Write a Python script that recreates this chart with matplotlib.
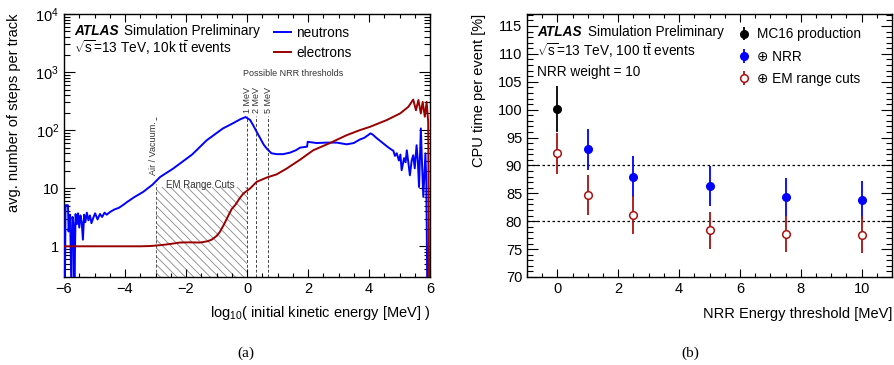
import matplotlib
matplotlib.use("Agg")
import matplotlib.pyplot as plt
from matplotlib.ticker import FixedLocator, MultipleLocator, NullFormatter
from matplotlib.patches import Rectangle
import numpy as np

plt.rcParams['font.family'] = ['Liberation Sans', 'DejaVu Sans']
plt.rcParams['mathtext.fontset'] = 'custom'
plt.rcParams['mathtext.rm'] = 'Liberation Sans'
plt.rcParams['mathtext.it'] = 'Liberation Sans:italic'
plt.rcParams['mathtext.bf'] = 'Liberation Sans:bold'
plt.rcParams['hatch.color'] = '#888888'
plt.rcParams['hatch.linewidth'] = 0.6

# ---- panel (a): steps per track vs log10(E) ----
neutron_logE = [-5.99, -5.97, -5.95, -5.92, -5.87, -5.85, -5.80, -5.76, -5.72, -5.68, -5.66,
                -5.62, -5.58, -5.54, -5.50, -5.46, -5.42, -5.38, -5.34, -5.30, -5.25, -5.20,
                -5.15, -5.10, -5.05, -4.98, -4.90, -4.82, -4.75, -4.67, -4.60, -4.49, -4.35,
                -4.20, -4.05, -3.93, -3.70, -3.41, -3.10, -2.85, -2.42, -1.80, -1.32, -0.79,
                -0.50, -0.23, -0.05, 0.10, 0.20, 0.32, 0.43, 0.55, 0.65, 0.80, 0.97, 1.18,
                1.41, 1.60, 1.74, 1.97, 1.99, 2.28, 2.60, 2.94, 3.27, 3.50, 3.70, 3.85, 4.05,
                4.12, 4.25, 4.47, 4.60, 4.69, 4.80, 4.85, 4.91, 4.98, 5.03, 5.07, 5.15, 5.20,
                5.24, 5.30, 5.34, 5.40, 5.45, 5.50, 5.56, 5.60, 5.64, 5.70, 5.74, 5.78, 5.85,
                5.88, 5.91]
neutron_steps = [2.0, 0.2, 5.1, 5.1, 5.1, 1.8, 3.5, 0.2, 3.2, 2.2, 0.2,
                 3.6, 2.4, 3.7, 2.1, 3.4, 2.6, 1.3, 3.5, 2.6, 3.8, 2.8,
                 3.4, 2.5, 3.0, 3.7, 2.9, 3.6, 3.2, 3.8, 3.5, 3.9, 4.3,
                 4.6, 5.2, 5.8, 7.0, 8.6, 11.5, 15.6, 21.8, 38.0, 67.0, 107.0,
                 128.0, 153.0, 168.0, 150.0, 122.0, 93.0, 73.0, 56.0, 48.0, 40.0, 38.6, 38.6,
                 41.0, 45.0, 50.0, 52.0, 63.0, 60.0, 61.0, 61.0, 57.0, 60.0, 69.0, 74.0, 88.0,
                 84.0, 73.0, 59.0, 52.0, 48.0, 44.0, 36.0, 40.0, 30.0, 38.0, 20.4, 33.0, 28.0,
                 45.0, 25.0, 16.7, 30.0, 37.0, 22.0, 55.0, 30.0, 10.5, 107.0, 25.0, 7.1, 40.0,
                 12.0, 0.2]

electron_logE = [-6.00, -3.50, -3.18, -2.80, -2.50, -2.20, -1.90, -1.54, -1.30, -1.16, -1.00,
                 -0.89, -0.75, -0.61, -0.50, -0.39, -0.25, -0.12, 0.10, 0.32, 0.65, 0.97,
                 1.30, 1.74, 2.17, 2.72, 3.27, 3.70, 4.03, 4.58, 5.02, 5.29, 5.45, 5.54, 5.62,
                 5.70, 5.76, 5.83, 5.89, 5.94, 5.97]
electron_steps = [1.0, 1.0, 1.01, 1.05, 1.10, 1.16, 1.17, 1.16, 1.22, 1.30, 1.50,
                  1.77, 2.40, 3.40, 4.40, 5.10, 6.60, 8.10, 9.90, 12.9, 15.3, 17.3,
                  21.8, 31.0, 45.0, 60.0, 82.0, 100.0, 114.0, 149.0, 194.0, 252.0, 336.0, 220.0, 330.0,
                  194.0, 307.0, 170.0, 307.0, 139.0, 0.2]

nrr_thresholds = [1, 2, 5]          # MeV
nrr_labels = ["1 MeV", "2 MeV", "5 MeV"]
air_vacuum_logE = -3
y_ticks_a = [1, 10, 100, 1000, 10000]
y_ticklabels_a = ["1", "10", r"$10^{2}$", r"$10^{3}$", r"$10^{4}$"]

# ---- panel (b): CPU time ----
mc16_x = [0]
mc16_y = [100.1]
mc16_err = [4.1]
nrr_x = [1, 2.5, 5, 7.5, 10]
nrr_y = [92.9, 88.0, 86.3, 84.4, 83.8]
nrr_err = [3.7, 3.65, 3.65, 3.4, 3.4]
em_x = [0, 1, 2.5, 5, 7.5, 10]
em_y = [92.2, 84.7, 81.1, 78.4, 77.7, 77.6]
em_err = [3.7, 3.5, 3.35, 3.3, 3.2, 3.3]
ref_lines = [80, 90]

BLUE = '#0000ff'
RED = '#990000'

fig = plt.figure(figsize=(8.94, 3.65), dpi=100)
axa = fig.add_axes([64/894, 1-277/365, 366/894, 263/365])
axb = fig.add_axes([527/894, 1-277/365, 365/894, 263/365])

# panel (a)
axa.set_yscale('log')
axa.set_xlim(-6, 6)
axa.set_ylim(0.296, 1e4)

axa.add_patch(Rectangle((-3, 0.296), 3, 10.3 - 0.296, fill=False, hatch='\\\\\\\\',
                        edgecolor='#888888', linewidth=0, zorder=1))
axa.plot([air_vacuum_logE]*2, [0.296, 12], color='#555555', ls=(0, (3, 2)), lw=0.7, zorder=1)
axa.plot([air_vacuum_logE]*2, [150, 175], color='#555555', ls=(0, (3, 2)), lw=0.7, zorder=1)
axa.text(air_vacuum_logE - 0.08, 17, "Air / Vacuum.", rotation=90, fontsize=6.5,
         ha='center', va='bottom', color='#333333')
axa.text(-2.65, 11.3, "EM Range Cuts", fontsize=7, ha='left', va='center', color='#333333')

for t, lab in zip(nrr_thresholds, nrr_labels):
    lx = np.log10(t)
    axa.plot([lx, lx], [0.296, 175], color='#444444', ls=(0, (3, 2)), lw=0.7, zorder=1)
    axa.text(lx, 200, lab, rotation=90, fontsize=6.5, ha='center', va='bottom', color='#333333')
axa.text(1.5, 950, "Possible NRR thresholds", fontsize=6.5, ha='center', va='center', color='#333333')

axa.plot(neutron_logE, neutron_steps, color=BLUE, lw=1.4, label='neutrons', zorder=3)
axa.plot(electron_logE, electron_steps, color=RED, lw=1.4, label='electrons', zorder=3)

axa.yaxis.set_major_locator(FixedLocator(y_ticks_a))
axa.set_yticklabels(y_ticklabels_a)
axa.yaxis.set_minor_locator(matplotlib.ticker.LogLocator(base=10, subs=np.arange(2, 10)))
axa.yaxis.set_minor_formatter(NullFormatter())
axa.xaxis.set_minor_locator(MultipleLocator(0.5))
axa.set_xticks([-6, -4, -2, 0, 2, 4, 6])
axa.set_xticklabels(["\u22126", "\u22124", "\u22122", "0", "2", "4", "6"])

axa.text(0.027, 0.922, "ATLAS", transform=axa.transAxes, fontsize=9.8, fontweight='bold',
         fontstyle='italic', ha='left', va='baseline')
axa.text(0.164, 0.922, "Simulation Preliminary", transform=axa.transAxes, fontsize=9.8,
         ha='left', va='baseline')
axa.text(0.027, 0.850, r"$\sqrt{\mathrm{s}}$=13 TeV, 10k t$\bar{\mathrm{t}}$ events",
         transform=axa.transAxes, fontsize=9.8, ha='left', va='baseline')
axa.legend(loc='upper left', bbox_to_anchor=(0.56, 0.975), frameon=False, fontsize=9.8,
           handlelength=1.2, handletextpad=0.4, labelspacing=0.45, borderaxespad=0)
axa.set_ylabel("avg. number of steps per track", fontsize=10.5, loc='top', labelpad=10)
axa.set_xlabel(r"log$_{10}$( initial kinetic energy [MeV] )", fontsize=10.5, loc='right', labelpad=6)

# panel (b)
axb.set_xlim(-1, 11)
axb.set_ylim(70, 117.15)
for r in ref_lines:
    axb.axhline(r, color='black', ls=(0, (2, 2)), lw=0.9, zorder=1)
axb.errorbar(mc16_x, mc16_y, yerr=mc16_err, fmt='o', color='black', ms=5.5,
             elinewidth=1.3, capsize=0, label='MC16 production', zorder=3)
axb.errorbar(nrr_x, nrr_y, yerr=nrr_err, fmt='o', color=BLUE, ms=5.5,
             elinewidth=1.3, capsize=0, label='\u2295 NRR', zorder=3)
axb.errorbar(em_x, em_y, yerr=em_err, fmt='o', color='#aa1111', mfc='white', mew=1.1,
             ms=5.5, elinewidth=1.3, capsize=0, label='\u2295 EM range cuts', zorder=3)
axb.xaxis.set_major_locator(MultipleLocator(2))
axb.xaxis.set_minor_locator(MultipleLocator(0.5))
axb.yaxis.set_major_locator(MultipleLocator(5))
axb.yaxis.set_minor_locator(MultipleLocator(1))
axb.text(0.027, 0.918, "ATLAS", transform=axb.transAxes, fontsize=9.8, fontweight='bold',
         fontstyle='italic', ha='left', va='baseline')
axb.text(0.167, 0.918, "Simulation Preliminary", transform=axb.transAxes, fontsize=9.8,
         ha='left', va='baseline')
axb.text(0.027, 0.842, r"$\sqrt{\mathrm{s}}$=13 TeV, 100 t$\bar{\mathrm{t}}$ events",
         transform=axb.transAxes, fontsize=9.8, ha='left', va='baseline')
axb.text(0.027, 0.766, "NRR weight = 10", transform=axb.transAxes, fontsize=9.8,
         ha='left', va='baseline')
axb.legend(loc='upper left', bbox_to_anchor=(0.56, 0.97), frameon=False, fontsize=9.8,
           handlelength=1.0, handletextpad=0.5, labelspacing=0.6, borderaxespad=0)
axb.set_ylabel("CPU time per event [%]", fontsize=10.5, loc='top', labelpad=8)
axb.set_xlabel("NRR Energy threshold [MeV]", fontsize=10.5, loc='right', labelpad=8)

for ax in (axa, axb):
    ax.tick_params(which='both', direction='in', top=True, right=True, labelsize=10.5)
    ax.tick_params(axis='x', which='major', length=6, width=0.8)
    ax.tick_params(axis='x', which='minor', length=3, width=0.8)
    ax.tick_params(axis='y', which='major', length=8, width=0.8)
    ax.tick_params(axis='y', which='minor', length=4, width=0.8)
    for s in ax.spines.values():
        s.set_linewidth(1.0)

fig.text(246/894, 1-353/365, "(a)", fontsize=11, family='Liberation Serif', ha='center', va='center')
fig.text(690/894, 1-353/365, "(b)", fontsize=11, family='Liberation Serif', ha='center', va='center')

fig.savefig("out.png", dpi=100)
